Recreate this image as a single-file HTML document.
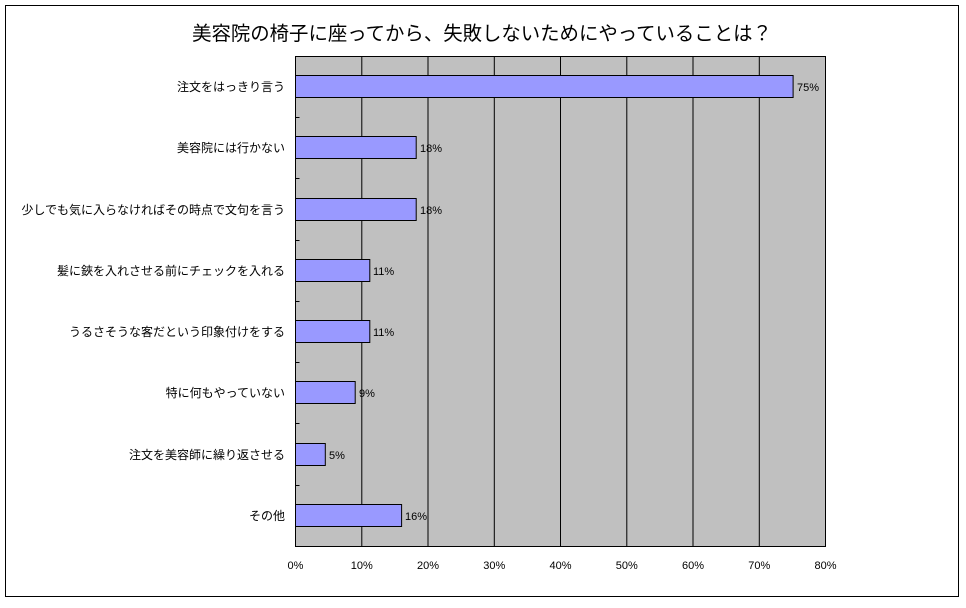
<!DOCTYPE html>
<html><head><meta charset="utf-8"><style>
body{margin:0;background:#fff;}
svg text{font-family:"Liberation Sans","Noto Sans CJK JP",sans-serif;}
</style></head><body>
<svg width="966" height="603" xmlns="http://www.w3.org/2000/svg">
<rect x="0" y="0" width="966" height="603" fill="#fff"/>
<rect x="5.5" y="5.5" width="953" height="591" fill="#fff" stroke="#000" stroke-width="1"/>
<text x="482" y="40" font-size="19.4" text-anchor="middle" fill="#000">美容院の椅子に座ってから、失敗しないためにやっていることは？</text>
<rect x="295.5" y="56.5" width="530" height="490" fill="#c0c0c0" stroke="#000"/>
<g stroke="#000" stroke-width="1">
<line x1="361.8" y1="56.5" x2="361.8" y2="546.5"/>
<line x1="428" y1="56.5" x2="428" y2="546.5"/>
<line x1="494.3" y1="56.5" x2="494.3" y2="546.5"/>
<line x1="560.5" y1="56.5" x2="560.5" y2="546.5"/>
<line x1="626.8" y1="56.5" x2="626.8" y2="546.5"/>
<line x1="693" y1="56.5" x2="693" y2="546.5"/>
<line x1="759.3" y1="56.5" x2="759.3" y2="546.5"/>
<line x1="295.5" y1="117.5" x2="299.5" y2="117.5"/>
<line x1="295.5" y1="178.5" x2="299.5" y2="178.5"/>
<line x1="295.5" y1="240.5" x2="299.5" y2="240.5"/>
<line x1="295.5" y1="301.5" x2="299.5" y2="301.5"/>
<line x1="295.5" y1="362.5" x2="299.5" y2="362.5"/>
<line x1="295.5" y1="423.5" x2="299.5" y2="423.5"/>
<line x1="295.5" y1="485.5" x2="299.5" y2="485.5"/>
</g>
<g fill="#9999ff" stroke="#000" stroke-width="1">
<rect x="295.5" y="75.5" width="497.6" height="22"/>
<rect x="295.5" y="136.5" width="120.7" height="22"/>
<rect x="295.5" y="198.5" width="120.7" height="22"/>
<rect x="295.5" y="259.5" width="74.3" height="22"/>
<rect x="295.5" y="320.5" width="74.3" height="22"/>
<rect x="295.5" y="381.5" width="59.7" height="22"/>
<rect x="295.5" y="443.5" width="29.8" height="22"/>
<rect x="295.5" y="504.5" width="106.1" height="22"/>
</g>
<g font-size="11" fill="#000">
<text x="797" y="91">75%</text>
<text x="420" y="152">18%</text>
<text x="420" y="214">18%</text>
<text x="373" y="275">11%</text>
<text x="373" y="336">11%</text>
<text x="359" y="397">9%</text>
<text x="329" y="459">5%</text>
<text x="405" y="520">16%</text>
</g>
<g font-size="12" fill="#000" text-anchor="end">
<text x="285" y="91">注文をはっきり言う</text>
<text x="285" y="152">美容院には行かない</text>
<text x="285" y="214">少しでも気に入らなければその時点で文句を言う</text>
<text x="285" y="275">髪に鋏を入れさせる前にチェックを入れる</text>
<text x="285" y="336">うるさそうな客だという印象付けをする</text>
<text x="285" y="397">特に何もやっていない</text>
<text x="285" y="459">注文を美容師に繰り返させる</text>
<text x="285" y="520">その他</text>
</g>
<g font-size="11" fill="#000" text-anchor="middle">
<text x="295.5" y="569">0%</text>
<text x="361.8" y="569">10%</text>
<text x="428" y="569">20%</text>
<text x="494.3" y="569">30%</text>
<text x="560.5" y="569">40%</text>
<text x="626.8" y="569">50%</text>
<text x="693" y="569">60%</text>
<text x="759.3" y="569">70%</text>
<text x="825.5" y="569">80%</text>
</g>
</svg>
</body></html>
